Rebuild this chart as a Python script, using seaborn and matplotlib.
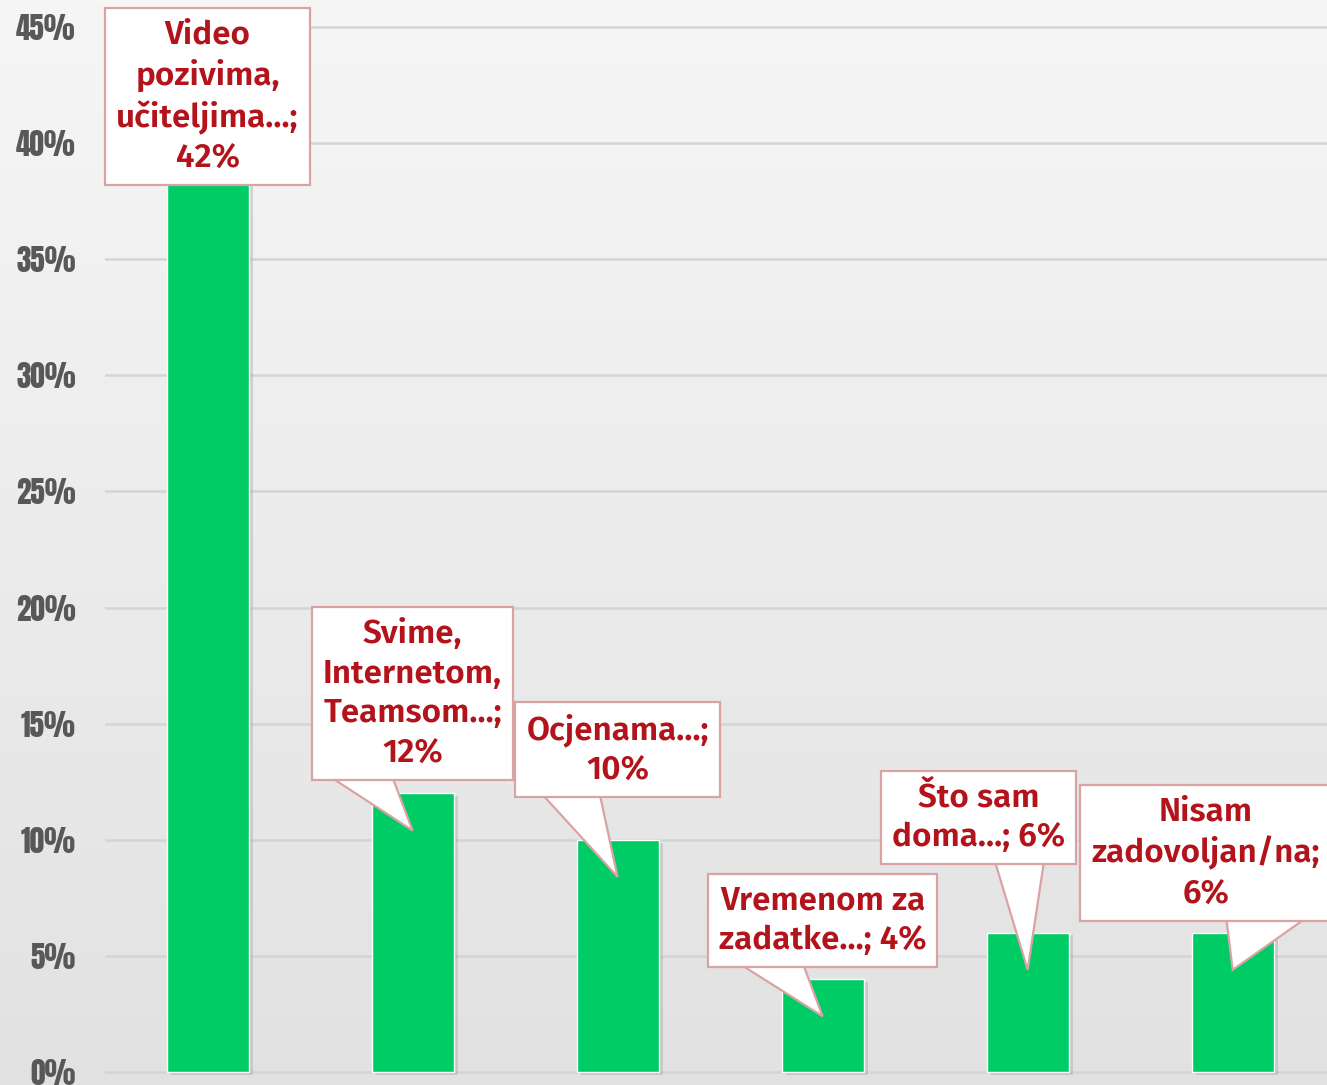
import numpy as np
import matplotlib
matplotlib.use("Agg")
import matplotlib.pyplot as plt
import matplotlib.transforms as mtransforms
from matplotlib.patches import Polygon
import seaborn as sns
from matplotlib import patheffects as pe

# data
categories = ["Video pozivima, učiteljima", "Svime, Internetom, Teamsom", "Ocjenama",
              "Vremenom za zadatke", "Što sam doma", "Nisam zadovoljan/na"]
values = [42, 12, 10, 4, 6, 6]
label_text = ["Video\npozivima,\nučiteljima…", "Svime,\nInternetom,\nTeamsom…", "Ocjenama…",
              "Vremenom za\nzadatke…", "Što sam\ndoma…", "Nisam\nzadovoljan/na"]
label_sep = [";\n", ";\n", ";\n", "; ", "; ", ";\n"]
yticks = [0, 5, 10, 15, 20, 25, 30, 35, 40, 45]

# callout layout in pixels relative to the pointer tip:
# box centre offset, and the two base corners of the pointer at the box edge
offsets = [(0, 0), (0, 137), (0, 127), (0, 96), (-49, 152), (-27, 117)]
pointer_base = [None, ((-69, 45), (-17, 45)), ((-72, 79), (-17, 79)), ((-76, 48), (-18, 48)),
                ((-32, 106), (16, 106)), ((-6, 48), (68, 48))]
tip_drop = 1.6

sns.set_style("white")

fig = plt.figure(figsize=(13.27, 10.85), dpi=100)

# grey background gradient
bg = fig.add_axes([0, 0, 1, 1])
grad = np.linspace(0.965, 0.885, 256).reshape(-1, 1)
bg.imshow(np.dstack([grad, grad, grad]), aspect="auto", extent=[0, 1, 0, 1])
bg.axis("off")

ax = fig.add_axes([105 / 1327, 0, 1 - 105 / 1327, 1])
ax.patch.set_alpha(0)

sns.barplot(x=categories, y=values, color="#00CC66", width=0.4, saturation=1, ax=ax, zorder=3)
for bar in ax.patches:
    bar.set_path_effects([pe.SimplePatchShadow(offset=(3, -2), shadow_rgbFace="#9a9a9a", alpha=0.35), pe.Normal()])

ax.set_xlim(-0.5, 5.46)
ax.set_ylim(-0.56, 46.16)
ax.set_yticks(yticks)
ax.set_yticklabels([f"{t}%" for t in yticks], fontsize=21, color="#585858", family="Anton")
ax.tick_params(axis="y", length=0, pad=21)
ax.set_xticks([])
ax.set_xlabel("")
ax.set_ylabel("")
ax.yaxis.grid(True, color="#d4d4d4", linewidth=1.8, zorder=0)
ax.set_axisbelow(True)
for s in ax.spines.values():
    s.set_visible(False)

red = "#B3131B"
edge = "#d9a3a3"
box = dict(boxstyle="square,pad=0.33", fc="white", ec=edge, lw=1.6)
for i, v in enumerate(values):
    txt = f"{label_text[i]}{label_sep[i]}{v}%"
    tip_y = v if i == 0 else v - tip_drop
    ax.annotate(txt, xy=(i, tip_y), xytext=offsets[i], textcoords="offset pixels",
                ha="center", va="center", fontsize=24, color=red, fontweight="semibold",
                family="Fira Sans", linespacing=1.3, bbox=box, zorder=6)
    if pointer_base[i] is None:
        continue
    # pointer: triangle from the tip to the box edge, pushed a bit into the box
    (lx, ly), (rx, ry) = pointer_base[i]
    k = 1.4
    verts = [(lx * k, ly * k), (0, 0), (rx * k, ry * k)]
    tr = mtransforms.ScaledTranslation(i, tip_y, ax.transData)
    ax.add_patch(Polygon(verts, closed=True, fc="white", ec=edge, lw=1.6,
                         transform=tr, zorder=5, clip_on=False))

fig.savefig("out.png", dpi=100)
